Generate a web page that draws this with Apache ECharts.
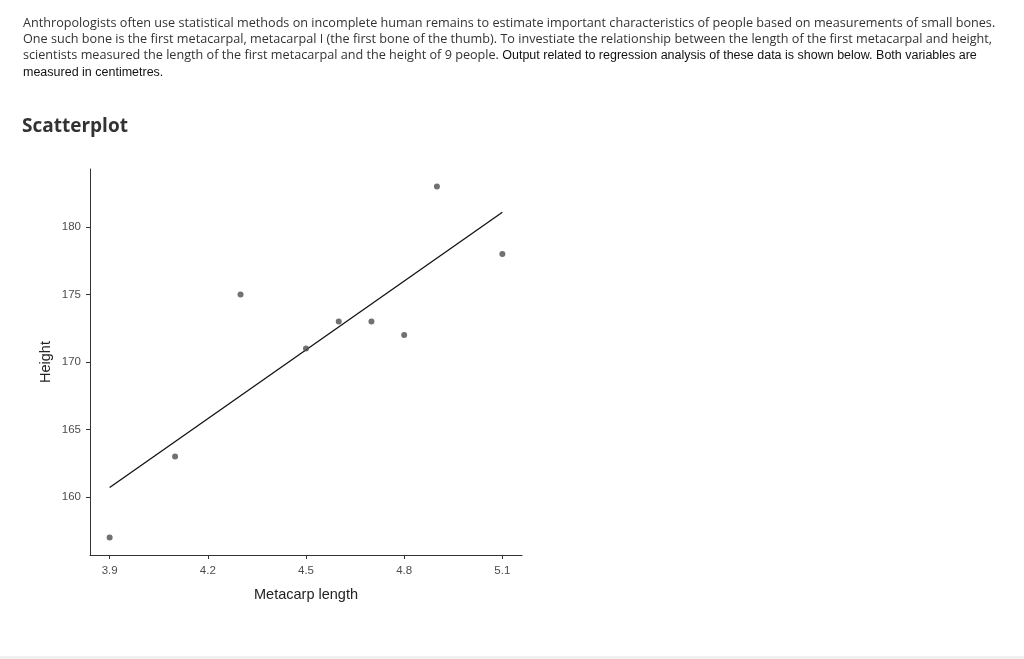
<!DOCTYPE html>
<html>
<head>
<meta charset="utf-8">
<script src="https://cdn.jsdelivr.net/npm/echarts@6/dist/echarts.min.js"></script>
<style>
  html, body { margin: 0; padding: 0; background: #fff; }
  #main { position: absolute; left: 0; top: 0; width: 1024px; height: 659px; }
  .intro { position: absolute; left: 23px; top: 15px; font-family: "Open Sans", sans-serif; font-size: 12.65px; line-height: 15.9px; color: #333; white-space: nowrap; }
  .intro .b { font-family: "Liberation Sans", Arial, sans-serif; font-size: 12.5px; color: #111; }
  h2 { position: absolute; left: 22px; top: 112px; margin: 0; font-family: "Open Sans", sans-serif; font-weight: 700; font-size: 19px; color: #333; }
  .foot { position: absolute; left: 0; top: 656px; width: 1024px; height: 3px; background: #f0f0f0; }
</style>
</head>
<body>
<div id="main"></div>
<div class="intro">
  Anthropologists often use statistical methods on incomplete human remains to estimate important characteristics of people based on measurements of small bones.<br>
  One such bone is the first metacarpal, metacarpal I (the first bone of the thumb). To investiate the relationship between the length of the first metacarpal and height,<br>
  scientists measured the length of the first metacarpal and the height of 9 people. <span class="b">Output related to regression analysis of these data is shown below. Both variables are</span><br>
  <span class="b">measured in centimetres.</span>
</div>
<h2>Scatterplot</h2>
<div class="foot"></div>
<script>
// 数据：掌骨长度与身高
var metacarp = [3.9, 4.1, 4.3, 4.5, 4.6, 4.7, 4.8, 4.9, 5.1];
var height = [157, 163, 175, 171, 173, 173, 172, 183, 178];
// 回归线两端
var fitX = [3.9, 5.1];
var fitY = [160.7, 181.1];
var xTicks = [3.9, 4.2, 4.5, 4.8, 5.1];
var yTicks = [160, 165, 170, 175, 180];

var myChart = echarts.init(document.getElementById('main'));

var points = metacarp.map(function (x, i) { return [x, height[i]]; });
var fit = fitX.map(function (x, i) { return [x, fitY[i]]; });

var labelStyle = { color: '#4d4d4d', fontSize: 11.5, fontFamily: 'Liberation Sans, Arial, sans-serif' };

var option = {
  animation: false,
  grid: { left: 90, right: 502, top: 169, bottom: 104, containLabel: false },
  xAxis: {
    type: 'value',
    min: 3.84, max: 5.16,
    name: 'Metacarp length',
    nameLocation: 'middle',
    nameGap: 32,
    nameTextStyle: { color: '#222', fontSize: 14.5, fontFamily: 'Liberation Sans, Arial, sans-serif' },
    splitLine: { show: false },
    axisLine: { lineStyle: { color: '#333', width: 1 } },
    axisTick: { length: 4, lineStyle: { color: '#333' }, customValues: xTicks },
    axisLabel: Object.assign({ margin: 10, customValues: xTicks }, labelStyle)
  },
  yAxis: {
    type: 'value',
    min: 155.7, max: 184.3,
    name: 'Height',
    nameLocation: 'middle',
    nameRotate: 90,
    nameGap: 37,
    nameTextStyle: { color: '#222', fontSize: 14.5, fontFamily: 'Liberation Sans, Arial, sans-serif' },
    splitLine: { show: false },
    axisLine: { show: true, lineStyle: { color: '#333', width: 1 } },
    axisTick: { show: true, length: 4, lineStyle: { color: '#333' }, customValues: yTicks },
    axisLabel: Object.assign({ margin: 9, customValues: yTicks }, labelStyle)
  },
  series: [{
    type: 'line',
    data: fit,
    symbol: 'none',
    lineStyle: { color: '#111', width: 1.3 },
    z: 2
  }, {
    type: 'scatter',
    data: points,
    symbolSize: 6,
    itemStyle: { color: '#4d4d4d' },
    z: 3
  }]
};

myChart.setOption(option);
</script>
</body>
</html>
